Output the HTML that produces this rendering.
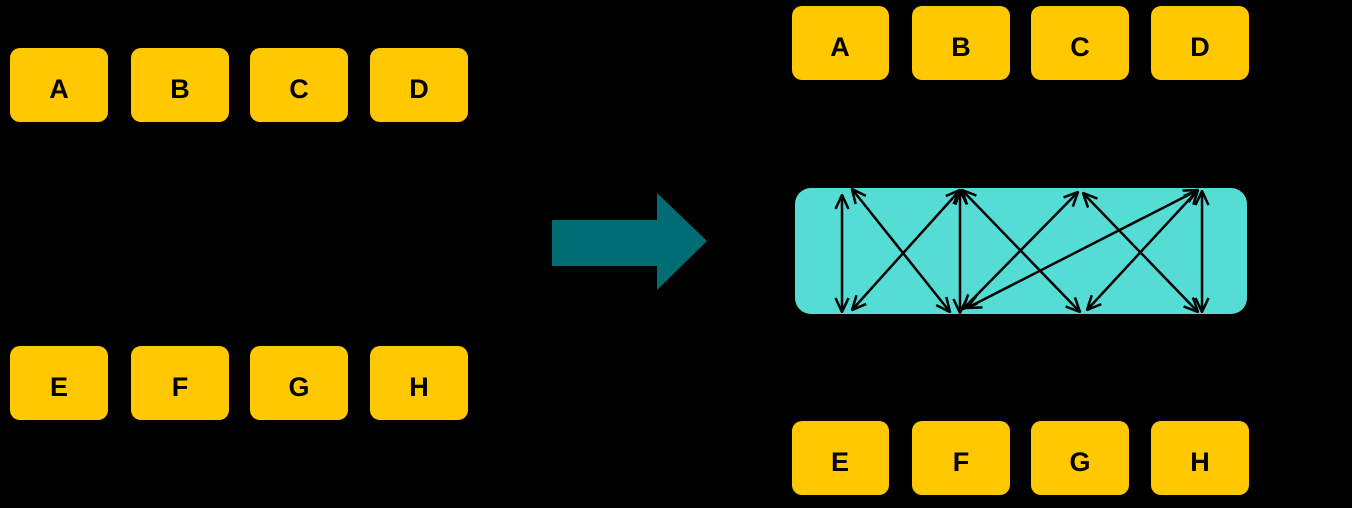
<!DOCTYPE html>
<html><head><style>html,body{margin:0;padding:0;background:#000;}svg{display:block}</style></head>
<body>
<svg width="1352" height="508" viewBox="0 0 1352 508" xmlns="http://www.w3.org/2000/svg">
<defs>
<marker id="ah" viewBox="0 0 16 16" refX="15" refY="8" markerWidth="16" markerHeight="16" markerUnits="userSpaceOnUse" orient="auto-start-reverse">
<path d="M1,1.5 L15,8 L1,14.5" fill="none" stroke="#000" stroke-width="2.5"/>
</marker>
</defs>
<rect width="1352" height="508" fill="#000"/>
<g fill="#FFC800">
<rect x="10" y="48" width="98" height="74" rx="10"/>
<rect x="131" y="48" width="98" height="74" rx="10"/>
<rect x="250" y="48" width="98" height="74" rx="10"/>
<rect x="370" y="48" width="98" height="74" rx="10"/>
<rect x="10" y="346" width="98" height="74" rx="10"/>
<rect x="131" y="346" width="98" height="74" rx="10"/>
<rect x="250" y="346" width="98" height="74" rx="10"/>
<rect x="370" y="346" width="98" height="74" rx="10"/>
<rect x="792" y="6" width="97" height="74" rx="10"/>
<rect x="912" y="6" width="98" height="74" rx="10"/>
<rect x="1031" y="6" width="98" height="74" rx="10"/>
<rect x="1151" y="6" width="98" height="74" rx="10"/>
<rect x="792" y="421" width="97" height="74" rx="10"/>
<rect x="912" y="421" width="98" height="74" rx="10"/>
<rect x="1031" y="421" width="98" height="74" rx="10"/>
<rect x="1151" y="421" width="98" height="74" rx="10"/>
</g>
<g font-family="Liberation Sans, sans-serif" font-weight="bold" font-size="27" text-anchor="middle" fill="#000">
<text x="59" y="98">A</text><text x="180" y="98">B</text><text x="299" y="98">C</text><text x="419" y="98">D</text>
<text x="59" y="396">E</text><text x="180" y="396">F</text><text x="299" y="396">G</text><text x="419" y="396">H</text>
<text x="840" y="56">A</text><text x="961" y="56">B</text><text x="1080" y="56">C</text><text x="1200" y="56">D</text>
<text x="840" y="471">E</text><text x="961" y="471">F</text><text x="1080" y="471">G</text><text x="1200" y="471">H</text>
</g>
<path d="M552,220 H657 V193 L707,241 L657,290 V266 H552 Z" fill="#006D75"/>
<rect x="795" y="188" width="452" height="126" rx="16" fill="#55DDD5"/>
<g stroke="#000" stroke-width="2.5" fill="none" marker-start="url(#ah)" marker-end="url(#ah)">
<line x1="842" y1="195" x2="842" y2="312"/>
<line x1="852" y1="189" x2="950" y2="312"/>
<line x1="960" y1="190" x2="852" y2="310"/>
<line x1="960" y1="190" x2="960" y2="313"/>
<line x1="962" y1="190" x2="1080" y2="312"/>
<line x1="1078" y1="192" x2="963" y2="309"/>
<line x1="1083" y1="193" x2="1198" y2="312"/>
<line x1="1198" y1="190" x2="1087" y2="310"/>
<line x1="1198" y1="190" x2="967" y2="308"/>
<line x1="1202" y1="191" x2="1202" y2="312"/>
</g>
</svg>
</body></html>
